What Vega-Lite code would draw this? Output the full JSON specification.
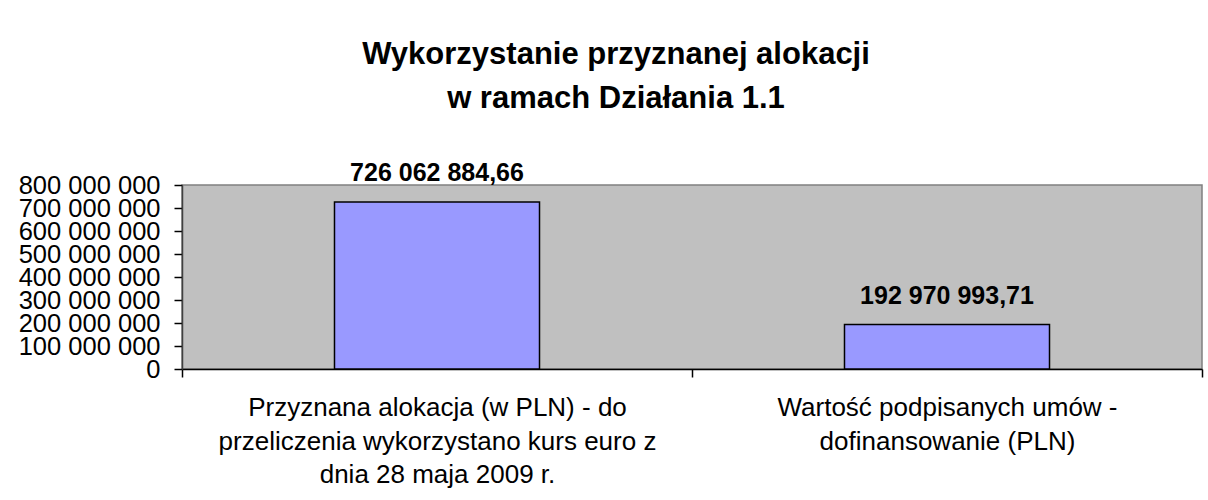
{
  "$schema": "https://vega.github.io/schema/vega-lite/v6.json",
  "width": 1020,
  "height": 184,
  "autosize": {"type": "none"},
  "padding": {"left": 182, "top": 185, "right": 6, "bottom": 131},
  "background": "white",
  "title": {
    "text": ["Wykorzystanie przyznanej alokacji", "w ramach Działania 1.1"],
    "font": "Liberation Sans",
    "fontSize": 31,
    "fontWeight": "bold",
    "lineHeight": 44,
    "color": "black",
    "anchor": "middle",
    "dx": -76,
    "offset": 46
  },
  "data": {
    "values": [
      {"kategoria": "Przyznana alokacja (w PLN) - do\nprzeliczenia wykorzystano kurs euro z\ndnia 28 maja 2009 r.", "wartosc": 726062884.66},
      {"kategoria": "Wartość podpisanych umów -\ndofinansowanie (PLN)", "wartosc": 192970993.71}
    ]
  },
  "encoding": {
    "x": {
      "field": "kategoria",
      "type": "nominal",
      "sort": null,
      "scale": {"paddingInner": 0, "paddingOuter": 0},
      "axis": {
        "title": null,
        "labelAngle": 0,
        "labelExpr": "split(datum.label, '\\n')",
        "labelFont": "Liberation Sans",
        "labelFontSize": 26,
        "labelLineHeight": 33.5,
        "labelBaseline": "top",
        "labelPadding": 17.5,
        "labelLimit": 0,
        "labelColor": "black",
        "tickBand": "extent",
        "tickSize": 8,
        "tickColor": "black",
        "tickWidth": 1.5,
        "domainColor": "black",
        "domainWidth": 1.5
      }
    },
    "y": {
      "field": "wartosc",
      "type": "quantitative",
      "scale": {"domain": [0, 800000000], "nice": false},
      "axis": {
        "title": null,
        "values": [0, 100000000, 200000000, 300000000, 400000000, 500000000, 600000000, 700000000, 800000000],
        "format": ",d",
        "grid": false,
        "labelFont": "Liberation Sans",
        "labelFontSize": 25.5,
        "labelColor": "black",
        "labelOverlap": false,
        "labelLimit": 0,
        "labelPadding": 14,
        "tickSize": 8,
        "tickColor": "black",
        "tickWidth": 1.5,
        "domainColor": "#404040",
        "domainWidth": 1.5
      }
    }
  },
  "layer": [
    {
      "mark": {"type": "bar", "width": {"band": 0.402}, "fill": "#9999FF", "stroke": "black", "strokeWidth": 1.5}
    },
    {
      "mark": {
        "type": "text",
        "font": "Liberation Sans",
        "fontSize": 25,
        "fontWeight": "bold",
        "baseline": "alphabetic",
        "dy": -21,
        "color": "black"
      },
      "encoding": {
        "text": {"field": "wartosc", "type": "quantitative", "format": ",.2f"}
      }
    }
  ],
  "config": {
    "locale": {"number": {"decimal": ",", "thousands": " ", "grouping": [3], "currency": ["", " zł"]}},
    "view": {"fill": "#C0C0C0", "stroke": "#808080", "strokeWidth": 1.5}
  }
}
